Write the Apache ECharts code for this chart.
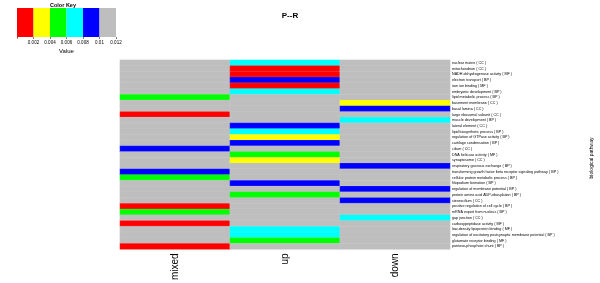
<!DOCTYPE html>
<html>
<head>
<meta charset="utf-8">
<script src="https://cdn.jsdelivr.net/npm/echarts@6/dist/echarts.min.js"></script>
<style>
  html, body { margin: 0; padding: 0; background: #fff; }
  #main { width: 600px; height: 283px; }
</style>
</head>
<body>
<div id="main"></div>
<script>
// 列与行
var columns = ['mixed', 'up', 'down'];
var pathways = [
  'nuclear matrix ( CC )',
  'mitochondrion ( CC )',
  'NADH dehydrogenase activity ( MF )',
  'electron transport ( BP )',
  'iron ion binding ( MF )',
  'embryonic development ( BP )',
  'lipid metabolic process ( BP )',
  'basement membrane ( CC )',
  'basal lamina ( CC )',
  'large ribosomal subunit ( CC )',
  'muscle development ( BP )',
  'lateral element ( CC )',
  'lipid biosynthetic process ( BP )',
  'regulation of GTPase activity ( BP )',
  'cartilage condensation ( BP )',
  'cilium ( CC )',
  'DNA helicase activity ( MF )',
  'synaptosome ( CC )',
  'respiratory gaseous exchange ( BP )',
  'transforming growth factor beta receptor signaling pathway ( BP )',
  'cellular protein metabolic process ( BP )',
  'filopodium formation ( BP )',
  'regulation of membrane potential ( BP )',
  'protein amino acid ADP-ribosylation ( BP )',
  'stereocilium ( CC )',
  'positive regulation of cell cycle ( BP )',
  'mRNA export from nucleus ( BP )',
  'gap junction ( CC )',
  'carboxypeptidase activity ( MF )',
  'low-density lipoprotein binding ( MF )',
  'regulation of excitatory postsynaptic membrane potential ( BP )',
  'glutamate receptor binding ( MF )',
  'pantose-phosphate shunt ( BP )'
];

// p 值（按颜色区间估计）
var mixedVals = [0.011, 0.011, 0.011, 0.011, 0.011, 0.011, 0.005, 0.011, 0.011, 0.001, 0.011,
                 0.011, 0.011, 0.011, 0.011, 0.009, 0.011, 0.011, 0.011, 0.009, 0.005, 0.011,
                 0.011, 0.011, 0.011, 0.001, 0.005, 0.011, 0.001, 0.011, 0.011, 0.011, 0.001];
var upVals =    [0.007, 0.001, 0.001, 0.009, 0.001, 0.007, 0.011, 0.011, 0.011, 0.011, 0.011,
                 0.009, 0.007, 0.003, 0.009, 0.011, 0.005, 0.003, 0.011, 0.011, 0.011, 0.009,
                 0.011, 0.005, 0.011, 0.011, 0.011, 0.011, 0.011, 0.007, 0.007, 0.005, 0.011];
var downVals =  [0.011, 0.011, 0.011, 0.011, 0.011, 0.011, 0.011, 0.003, 0.009, 0.011, 0.007,
                 0.011, 0.011, 0.011, 0.011, 0.011, 0.011, 0.011, 0.009, 0.011, 0.011, 0.011,
                 0.009, 0.011, 0.009, 0.011, 0.011, 0.007, 0.011, 0.011, 0.011, 0.011, 0.011];

// 颜色键
var keyBreaks = [0, 0.002, 0.004, 0.006, 0.008, 0.01, 0.012];
var keyColors = ['#FF0000', '#FFFF00', '#00FF00', '#00FFFF', '#0000FF', '#BEBEBE'];

var data = [];
[mixedVals, upVals, downVals].forEach(function (col, ci) {
  col.forEach(function (v, ri) { data.push([ci, ri, v]); });
});

var pieces = [];
for (var i = 0; i < keyColors.length; i++) {
  pieces.push({ gte: keyBreaks[i], lt: keyBreaks[i + 1], color: keyColors[i] });
}

var keySeries = keyColors.map(function (c, i) {
  return {
    type: 'bar', stack: 'key', xAxisIndex: 1, yAxisIndex: 1,
    barWidth: '100%', silent: true,
    itemStyle: { color: c },
    data: [keyBreaks[i + 1] - keyBreaks[i]]
  };
});

var myChart = echarts.init(document.getElementById('main'));
myChart.setOption({
  animation: false,
  title: {
    text: 'P--R', left: 285, top: 7, textAlign: 'center',
    textStyle: { fontSize: 8, fontWeight: 'bold', color: '#000', fontFamily: 'Liberation Sans' }
  },
  grid: [
    { left: 120, top: 60, width: 330, height: 190 },
    { left: 17, top: 8, width: 99, height: 29 }
  ],
  xAxis: [
    {
      type: 'category', data: columns, gridIndex: 0, position: 'bottom',
      axisLine: { show: false }, axisTick: { show: false }, splitLine: { show: false },
      axisLabel: { rotate: 90, fontSize: 10, margin: 4, color: '#000', fontFamily: 'Liberation Sans' }
    },
    {
      type: 'value', gridIndex: 1, min: 0, max: 0.012, interval: 0.002,
      name: 'Value', nameLocation: 'middle', nameGap: 11,
      nameTextStyle: { fontSize: 6, color: '#000', fontFamily: 'Liberation Sans' },
      axisLine: { show: false },
      axisTick: { show: true, length: 2, lineStyle: { color: '#000', width: 0.5 } },
      splitLine: { show: false },
      axisLabel: {
        fontSize: 4.5, margin: 3, color: '#000', fontFamily: 'Liberation Sans',
        formatter: function (v) { return v === 0 ? '' : String(+v.toFixed(3)); }
      }
    }
  ],
  yAxis: [
    {
      type: 'category', data: pathways, gridIndex: 0, inverse: true, position: 'right',
      axisLine: { show: false }, axisTick: { show: false }, splitLine: { show: false },
      axisLabel: { interval: 0, fontSize: 3.7, margin: 2, color: '#000', fontFamily: 'Liberation Sans' }
    },
    {
      type: 'category', data: ['key'], gridIndex: 1,
      axisLine: { show: false }, axisTick: { show: false }, axisLabel: { show: false }
    }
  ],
  visualMap: {
    type: 'piecewise', show: false, seriesIndex: 0, dimension: 2, pieces: pieces
  },
  graphic: [
    {
      type: 'text', left: 50, top: 2,
      style: { text: 'Color Key', fontSize: 5.5, fontWeight: 'bold', fill: '#000', fontFamily: 'Liberation Sans' }
    },
    {
      type: 'text', x: 592, y: 158, rotation: Math.PI / 2,
      style: {
        text: 'biological pathway', fontSize: 5, fill: '#000', fontFamily: 'Liberation Sans',
        align: 'center', verticalAlign: 'middle'
      }
    }
  ],
  series: [
    {
      type: 'heatmap', xAxisIndex: 0, yAxisIndex: 0, data: data, silent: true,
      itemStyle: { borderColor: 'rgba(215,215,215,0.5)', borderWidth: 0.3 }
    }
  ].concat(keySeries)
});
</script>
</body>
</html>
